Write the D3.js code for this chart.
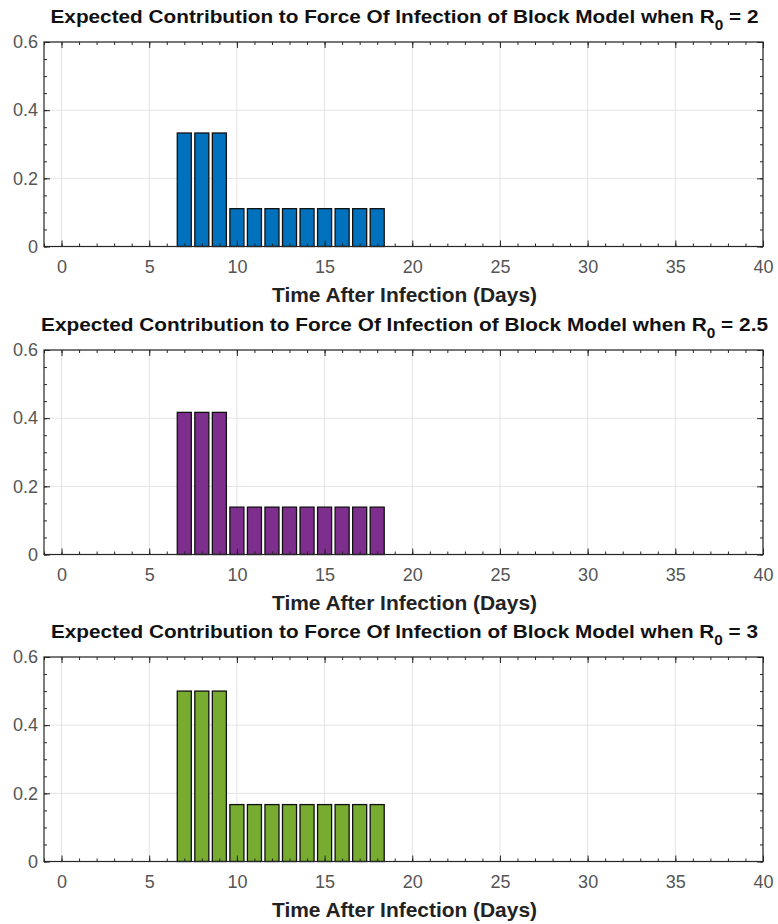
<!DOCTYPE html>
<html>
<head>
<meta charset="UTF-8">
<title>Block Model</title>
<script src="https://cdn.jsdelivr.net/npm/d3@7"></script>
<style>
  body { margin: 0; background: #fff; }
</style>
</head>
<body>
<div id="chart"></div>
<script>
var days = [7, 8, 9, 10, 11, 12, 13, 14, 15, 16, 17, 18];
var r0Labels = ["2", "2.5", "3"];
var valuesR2 = [0.333, 0.333, 0.333, 0.111, 0.111, 0.111, 0.111, 0.111, 0.111, 0.111, 0.111, 0.111];
var valuesR25 = [0.417, 0.417, 0.417, 0.139, 0.139, 0.139, 0.139, 0.139, 0.139, 0.139, 0.139, 0.139];
var valuesR3 = [0.5, 0.5, 0.5, 0.167, 0.167, 0.167, 0.167, 0.167, 0.167, 0.167, 0.167, 0.167];
var xTicks = [0, 5, 10, 15, 20, 25, 30, 35, 40];
var yTicks = [0, 0.2, 0.4, 0.6];
var yTickLabels = ["0", "0.2", "0.4", "0.6"];
var colors = ["#0072BD", "#7E2F8E", "#77AC30"];

var width = 778,
    height = 924,
    left = 44,
    right = 763,
    panelTops = [42, 350, 657],
    titleWidths = [708, 727, 707],
    panelH = 204.5;

var panels = [valuesR2, valuesR25, valuesR3].map(function(v, i) {
  return {r0: r0Labels[i], values: v, color: colors[i], top: panelTops[i], titleW: titleWidths[i]};
});

var font = "'Liberation Sans', Arial, Helvetica, sans-serif";
var svg = d3.select("#chart")
  .append("svg")
  .attr("width", width)
  .attr("height", height)
  .style("font-family", font);

var x = d3.scaleLinear().domain([-1, 40]).range([left, right]);
var minorX = d3.range(-1, 41);
var minorY = d3.range(0, 0.6001, 0.05);

panels.forEach(function(p) {
  var y = d3.scaleLinear().domain([0, 0.6]).range([panelH, 0]);
  var g = svg.append("g").attr("transform", "translate(0," + p.top + ")");

  // grid
  g.append("g").selectAll("line")
    .data(xTicks)
    .join("line")
    .attr("x1", function(d) { return x(d); })
    .attr("x2", function(d) { return x(d); })
    .attr("y1", 0)
    .attr("y2", panelH)
    .attr("stroke", "#e3e3e3");
  g.append("g").selectAll("line")
    .data(yTicks)
    .join("line")
    .attr("x1", left)
    .attr("x2", right)
    .attr("y1", function(d) { return y(d); })
    .attr("y2", function(d) { return y(d); })
    .attr("stroke", "#e3e3e3");

  // bars
  g.append("g").selectAll("rect")
    .data(days)
    .join("rect")
    .attr("x", function(d) { return x(d - 0.4); })
    .attr("width", function(d) { return x(d + 0.4) - x(d - 0.4); })
    .attr("y", function(d, i) { return y(p.values[i]); })
    .attr("height", function(d, i) { return panelH - y(p.values[i]); })
    .attr("fill", p.color)
    .attr("stroke", "#111")
    .attr("stroke-width", 1.3);

  // axes, ticks pointing inward
  function tidy(sel) {
    sel.select(".domain").remove();
    sel.selectAll("line").attr("stroke", "#262626");
  }
  g.append("g").attr("transform", "translate(0," + panelH + ")")
    .call(d3.axisBottom(x).tickValues(xTicks).tickSize(-6).tickPadding(14))
    .call(tidy)
    .selectAll("text")
    .attr("font-size", "18px")
    .attr("fill", "#555")
    .attr("font-family", font);
  g.append("g").attr("transform", "translate(0," + panelH + ")")
    .call(d3.axisBottom(x).tickValues(minorX).tickSize(-3).tickFormat(""))
    .call(tidy);
  g.append("g")
    .call(d3.axisTop(x).tickValues(xTicks).tickSize(-6).tickFormat(""))
    .call(tidy);
  g.append("g")
    .call(d3.axisTop(x).tickValues(minorX).tickSize(-3).tickFormat(""))
    .call(tidy);
  g.append("g").attr("transform", "translate(" + left + ",0)")
    .call(d3.axisLeft(y).tickValues(yTicks).tickSize(-6).tickPadding(6)
      .tickFormat(function(d, i) { return yTickLabels[i]; }))
    .call(tidy)
    .selectAll("text")
    .attr("font-size", "18px")
    .attr("fill", "#555")
    .attr("font-family", font);
  g.append("g").attr("transform", "translate(" + left + ",0)")
    .call(d3.axisLeft(y).tickValues(minorY).tickSize(-3).tickFormat(""))
    .call(tidy);
  g.append("g").attr("transform", "translate(" + right + ",0)")
    .call(d3.axisRight(y).tickValues(yTicks).tickSize(-6).tickFormat(""))
    .call(tidy);
  g.append("g").attr("transform", "translate(" + right + ",0)")
    .call(d3.axisRight(y).tickValues(minorY).tickSize(-3).tickFormat(""))
    .call(tidy);

  // frame
  g.append("rect")
    .attr("x", left)
    .attr("y", 0)
    .attr("width", right - left)
    .attr("height", panelH)
    .attr("fill", "none")
    .attr("stroke", "#262626")
    .attr("stroke-width", 1.2);

  // title
  var t = g.append("text")
    .attr("x", (left + right) / 2 + 1)
    .attr("y", -19)
    .attr("text-anchor", "middle")
    .attr("font-size", "19px")
    .attr("font-weight", "bold")
    .attr("fill", "#111")
    .attr("textLength", p.titleW)
    .attr("lengthAdjust", "spacingAndGlyphs");
  t.append("tspan").text("Expected Contribution to Force Of Infection of Block Model when R");
  t.append("tspan").attr("dy", 7).attr("font-size", "14px").text("0");
  t.append("tspan").attr("dy", -7).text(" = " + p.r0);

  // x label
  g.append("text")
    .attr("x", (left + right) / 2 + 1)
    .attr("y", panelH + 55)
    .attr("text-anchor", "middle")
    .attr("font-size", "20px")
    .attr("font-weight", "bold")
    .attr("fill", "#222")
    .attr("textLength", 265)
    .attr("lengthAdjust", "spacingAndGlyphs")
    .text("Time After Infection (Days)");
});
</script>
</body>
</html>
